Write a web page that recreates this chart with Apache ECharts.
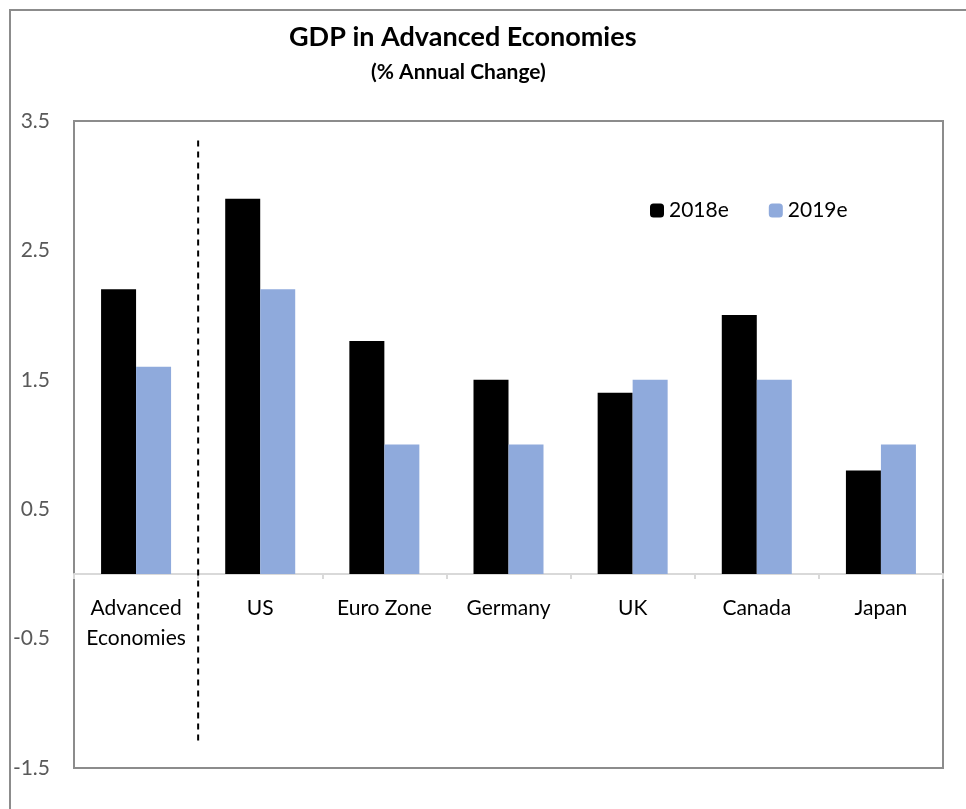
<!DOCTYPE html>
<html>
<head>
    <meta charset="utf-8">
    <title>GDP in Advanced Economies</title>
</head>
<body style="margin:0;">
        <div id="main" style="width: 966px;height:809px;"></div>
</body>
<script src="https://cdn.jsdelivr.net/npm/echarts@6/dist/echarts.min.js"></script>
<script>
// data
var categories = ['Advanced\nEconomies', 'US', 'Euro Zone', 'Germany', 'UK', 'Canada', 'Japan'];
var gdp2018 = [2.2, 2.9, 1.8, 1.5, 1.4, 2.0, 0.8];
var gdp2019 = [1.6, 2.2, 1.0, 1.0, 1.5, 1.5, 1.0];
var yTicks = [-1.5, -0.5, 0.5, 1.5, 2.5, 3.5];
// dashed separator after the first category
var dividerLine = [[1, 3.35], [1, -1.32]];

var font = 'Lato, "Open Sans", sans-serif';
var myChart = echarts.init(document.getElementById('main'));

myChart.setOption({
        color:['#000000','#8faadc'],
        textStyle: { fontFamily: font },
        title: [{
            text: 'GDP in Advanced Economies',
            left: 284,
            top: 19,
            textStyle: { fontSize: 27, fontWeight: 'bold', color: '#000' }
        }, {
            text: '(% Annual Change)',
            left: 366,
            top: 57,
            textStyle: { fontSize: 21, fontWeight: 'bold', color: '#000' }
        }],
        legend: {
            data: ['2018e', '2019e'],
            left: 645,
            top: 195,
            itemWidth: 14,
            itemHeight: 14,
            itemGap: 40,
            selectedMode: false,
            textStyle: { fontSize: 21, color: '#000', fontFamily: font }
        },
        graphic: [{
            type: 'rect',
            shape: { x: 10, y: 10, width: 1000, height: 1000 },
            style: { fill: 'none', stroke: '#8c8c8c', lineWidth: 2 }
        }],
        grid: {
            left: 74,
            right: 23,
            top: 121,
            bottom: 41,
            containLabel: false,
            outerBoundsMode: 'none',
            show: true,
            borderColor: '#8c8c8c',
            borderWidth: 2
        },
        xAxis: [{
            // line on zero with ticks, labels come from the third axis
            type: 'category',
            data: categories,
            axisLine: { onZero: true, lineStyle: { color: '#d9d9d9', width: 2 } },
            axisTick: { show: true, length: 5, lineStyle: { color: '#d9d9d9', width: 2 } },
            axisLabel: { show: false }
        }, {
            type: 'value',
            min: 0,
            max: 7,
            show: false
        }, {
            type: 'category',
            data: categories,
            position: 'bottom',
            offset: -193,
            axisLine: { show: false },
            axisTick: { show: false },
            axisLabel: {
                interval: 0,
                margin: 18,
                fontSize: 21,
                lineHeight: 30,
                color: '#000',
                fontFamily: font
            }
        }],
        yAxis: {
            type: 'value',
            min: -1.5,
            max: 3.5,
            interval: 1,
            axisLine: { show: false },
            axisTick: { show: false },
            splitLine: { show: false },
            axisLabel: {
                customValues: yTicks,
                margin: 24,
                fontSize: 21,
                color: '#595959',
                fontFamily: font,
                formatter: function (v) { return v.toFixed(1); }
            }
        },
        series: [
            {
                name: '2018e',
                type: 'bar',
                data: gdp2018,
                barWidth: 35,
                barGap: '0%'
            },
            {
                name: '2019e',
                type: 'bar',
                data: gdp2019,
                barWidth: 35,
                barGap: '0%'
            },
            {
                type: 'line',
                xAxisIndex: 1,
                data: dividerLine,
                symbol: 'none',
                silent: true,
                lineStyle: { color: '#000', width: 2, type: [6, 5] }
            }
        ]
    });
</script>
</html>
